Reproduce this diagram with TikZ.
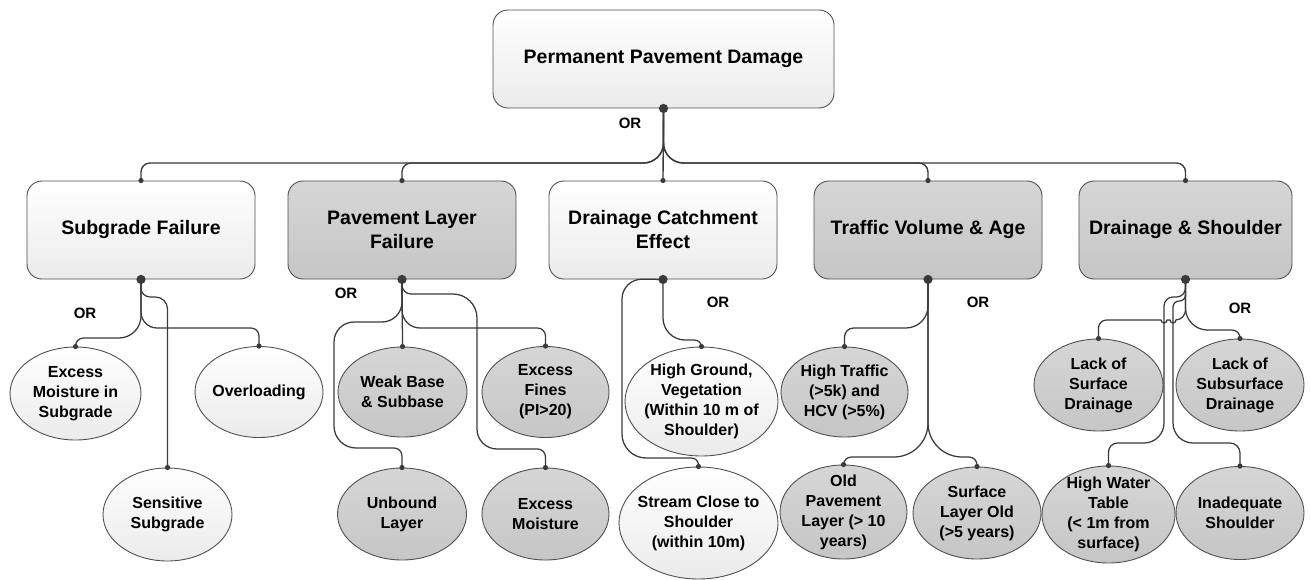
\documentclass[tikz,border=0pt]{standalone}
\usepackage{fontspec}
\setmainfont{Liberation Sans}
\usetikzlibrary{shapes.geometric}

\definecolor{lineclr}{HTML}{3A3A3A}
\definecolor{edgeclr}{HTML}{505050}
\definecolor{lightbot}{HTML}{EBEBEB}
\definecolor{darktop}{HTML}{D6D6D6}
\definecolor{darkbot}{HTML}{C6C6C6}

\begin{document}
\begin{tikzpicture}[x=1bp, y=-1bp,
  box/.style={draw=edgeclr, line width=0.9bp, rounded corners=15bp,
    minimum width=228bp, minimum height=98bp, inner sep=0pt, align=center,
    font=\bfseries\fontsize{19.5bp}{24bp}\selectfont},
  lightfill/.style={top color=white, bottom color=lightbot},
  darkfill/.style={top color=darktop, bottom color=darkbot},
  leaf/.style={ellipse, draw=edgeclr, line width=0.9bp, inner sep=-15bp,
    align=center, font=\bfseries\fontsize{16bp}{20bp}\selectfont},
  conn/.style={draw=lineclr, line width=1.25bp},
  gate/.style={font=\bfseries\fontsize{15bp}{18bp}\selectfont},
  bigdot/.style={fill=lineclr},
]
\useasboundingbox (0,0) rectangle (1310,580);
\fill[white] (0,0) rectangle (1310,580);

% ---------- top event and intermediate events ----------
\node[box, lightfill, minimum width=341bp] (top) at (663.5,59) {Permanent Pavement Damage};
\node[box, lightfill] (sg) at (141,230) {Subgrade Failure};
\node[box, darkfill]  (pl) at (402,230) {Pavement Layer\\Failure};
\node[box, lightfill] (dc) at (663,230) {Drainage Catchment\\Effect};
\node[box, darkfill]  (tv) at (928,230) {Traffic Volume \& Age};
\node[box, darkfill, minimum width=213bp] (ds) at (1185.5,230) {Drainage \& Shoulder};

% ---------- basic events ----------
\node[leaf, lightfill, minimum width=131bp, minimum height=93bp] (exm) at (75.5,393.5) {Excess\\Moisture in\\Subgrade};
\node[leaf, lightfill, minimum width=128bp, minimum height=91bp] (ovl) at (259,392) {Overloading};
\node[leaf, lightfill, minimum width=129bp, minimum height=93bp] (sen) at (167.5,514.5) {Sensitive\\Subgrade};

\node[leaf, darkfill, minimum width=129bp, minimum height=90bp] (wb) at (402.5,392) {Weak Base\\\& Subbase};
\node[leaf, darkfill, minimum width=127bp, minimum height=91bp] (ef) at (545.5,392) {Excess\\Fines\\(PI>20)};
\node[leaf, darkfill, minimum width=129bp, minimum height=92bp] (ub) at (402,514) {Unbound\\Layer};
\node[leaf, darkfill, minimum width=127bp, minimum height=92bp] (em) at (545.5,514) {Excess\\Moisture};

\node[leaf, lightfill, minimum width=153bp, minimum height=109bp] (hg) at (701.5,401.5) {High Ground,\\Vegetation\\(Within 10 m of\\Shoulder)};
\node[leaf, lightfill, minimum width=159bp, minimum height=112bp] (st) at (698.5,523) {Stream Close to\\Shoulder\\(within 10m)};

\node[leaf, darkfill, minimum width=127bp, minimum height=90bp] (ht) at (844.5,392) {High Traffic\\(>5k) and\\HCV (>5\%)};
\node[leaf, darkfill, minimum width=127bp, minimum height=94bp] (op) at (843.5,512) {Old\\Pavement\\Layer (> 10\\years)};
\node[leaf, darkfill, minimum width=128bp, minimum height=92bp] (sl) at (977,513) {Surface\\Layer Old\\(>5 years)};

\node[leaf, darkfill, minimum width=129bp, minimum height=92bp] (lsf) at (1098.5,385) {Lack of\\Surface\\Drainage};
\node[leaf, darkfill, minimum width=128bp, minimum height=92bp] (lsb) at (1240,385) {Lack of\\Subsurface\\Drainage};
\node[leaf, darkfill, minimum width=133bp, minimum height=97bp] (hwt) at (1108.5,514.5) {High Water\\Table\\(< 1m from\\surface)};
\node[leaf, darkfill, minimum width=128bp, minimum height=93bp] (is) at (1240,513) {Inadequate\\Shoulder};

% ---------- OR gate labels ----------
\node[gate] (or0) at (630,123) {OR};
\node[gate] (or1) at (85,313) {OR};
\node[gate] (or2) at (346,293) {OR};
\node[gate] (or3) at (718,302) {OR};
\node[gate] (or4) at (978,302) {OR};
\node[gate] (or5) at (1240,308) {OR};

% ---------- connectors: top level (corner radius set on the segment entering each corner) ----------
\draw[conn, line width=1.35bp] (top.south) [rounded corners=20bp] -- (top.south |- 0,163) [rounded corners=9bp] -- (sg.north |- 0,163) -- (sg.north);
\draw[conn, line width=1.35bp] (top.south) [rounded corners=20bp] -- (top.south |- 0,163) [rounded corners=9bp] -- (pl.north |- 0,163) -- (pl.north);
\draw[conn, line width=1.35bp] (top.south) -- (dc.north);
\draw[conn, line width=1.35bp] (top.south) [rounded corners=20bp] -- (top.south |- 0,163) [rounded corners=9bp] -- (tv.north |- 0,163) -- (tv.north);
\draw[conn, line width=1.35bp] (top.south) [rounded corners=20bp] -- (top.south |- 0,163) [rounded corners=9bp] -- (ds.north |- 0,163) -- (ds.north);

% ---------- connectors: subgrade failure ----------
\draw[conn] (sg.south) [rounded corners=22bp] -- (sg.south |- 0,338) [rounded corners=8bp] -- (exm.north |- 0,338) -- (exm.north);
\draw[conn] (sg.south) [rounded corners=16bp] -- (sg.south |- 0,328) [rounded corners=8bp] -- (ovl.north |- 0,328) -- (ovl.north);
\draw[conn] (sg.south) [rounded corners=9bp] -- (sg.south |- 0,297) [rounded corners=12bp] -- (sen.north |- 0,297) -- (sen.north);

% ---------- connectors: pavement layer failure ----------
\draw[conn] (pl.south) -- (wb.north);
\draw[conn] (pl.south) [rounded corners=18bp] -- (pl.south |- 0,328) [rounded corners=8bp] -- (ef.north |- 0,328) -- (ef.north);
\draw[conn] (pl.south) [rounded corners=20bp] -- (pl.south |- 0,322) -- (334,322) [rounded corners=22bp] -- (334,448) [rounded corners=8bp] -- (ub.north |- 0,448) -- (ub.north);
\draw[conn] (pl.south) [rounded corners=9bp] -- (pl.south |- 0,294) [rounded corners=24bp] -- (477,294) [rounded corners=20bp] -- (477,449) [rounded corners=8bp] -- (em.north |- 0,449) -- (em.north);

% ---------- connectors: drainage catchment effect ----------
\draw[conn] (dc.south) [rounded corners=22bp] -- (dc.south |- 0,340) [rounded corners=7bp] -- (hg.north |- 0,340) -- (hg.north);
\draw[conn] (dc.south) [rounded corners=20bp] -- (622,279) [rounded corners=24bp] -- (622,458) [rounded corners=7bp] -- (st.north |- 0,458) -- (st.north);

% ---------- connectors: traffic volume and age ----------
\draw[conn] (tv.south) [rounded corners=22bp] -- (tv.south |- 0,328) [rounded corners=9bp] -- (ht.north |- 0,328) -- (ht.north);
\draw[conn] (tv.south) [rounded corners=34bp] -- (tv.south |- 0,457) [rounded corners=8bp] -- (op.north |- 0,457) -- (op.north);
\draw[conn] (tv.south) [rounded corners=34bp] -- (tv.south |- 0,457) [rounded corners=8bp] -- (sl.north |- 0,457) -- (sl.north);

% ---------- connectors: drainage and shoulder ----------
\draw[conn] (ds.south) [rounded corners=22bp] -- (ds.south |- 0,330) [rounded corners=8bp] -- (lsb.north |- 0,330) -- (lsb.north);
\draw[conn] (ds.south) [rounded corners=9bp] -- (ds.south |- 0,297) -- (1164,297) [rounded corners=20bp] -- (1164,443) [rounded corners=9bp] -- (hwt.north |- 0,443) -- (hwt.north);
\draw[conn] (ds.south) [rounded corners=6bp] -- (ds.south |- 0,301) -- (1173,301) [rounded corners=20bp] -- (1173,443) [rounded corners=10bp] -- (is.north |- 0,443) -- (is.north);
\draw[conn] (ds.south) [rounded corners=10bp] -- (ds.south |- 0,320) [sharp corners] -- (1176,320)
  arc[start angle=0, end angle=-180, radius=3bp] -- (1167,320)
  arc[start angle=0, end angle=-180, radius=3bp] [rounded corners=8bp] -- (lsf.north |- 0,320) [sharp corners] -- (lsf.north);

% ---------- gate dots and input dots ----------
\foreach \n in {top,sg,pl,dc,tv,ds}
  \fill[bigdot] (\n.south) circle[radius=4.6bp];
\foreach \n in {sg,pl,dc,tv,ds,exm,ovl,sen,wb,ef,ub,em,hg,st,ht,op,sl,lsf,lsb,hwt,is}
  \fill[bigdot] (\n.north) circle[radius=2.6bp];
\end{tikzpicture}
\end{document}
